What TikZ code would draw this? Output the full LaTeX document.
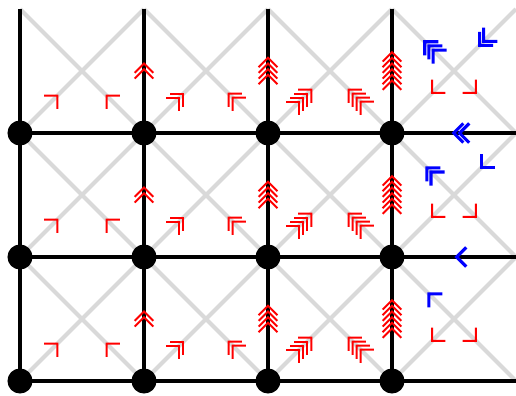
\documentclass[tikz,border=0pt]{standalone}
\usetikzlibrary{decorations.markings}

% n chevrons centred on the mark, pointing along the path
\newcommand{\chevrons}[4]{% style, count, spacing, depth
  \foreach \k in {1,...,#2}{
    \pgfmathsetmacro{\tipx}{(#4+(#2-1)*#3)/2-(\k-1)*#3}
    \draw[#1] (\tipx pt-#4,#4) -- (\tipx pt,0) -- (\tipx pt-#4,-#4);
  }
}

\begin{document}
\begin{tikzpicture}[x=2cm, y=2cm,
    dot/.style={circle, fill=black, inner sep=0pt, minimum size=11.5pt},
    grid line/.style={line width=1.8pt},
    diag/.style={line width=1.8pt, gray!30},
    red arrow/.style 2 args={postaction={decorate}, decoration={markings,
        mark=at position #2 with {\chevrons{red, line width=0.9pt}{#1}{2.6pt}{4.3pt}}}},
    blue arrow/.style 2 args={postaction={decorate}, decoration={markings,
        mark=at position #2 with {\chevrons{blue, line width=1.4pt}{#1}{2.7pt}{4.4pt}}}}]
    \useasboundingbox (-0.1613,-0.1129) rectangle (4,3.0726);

    % Grid points and cell centres
    \foreach \i in {0,...,4}
        \foreach \j in {0,...,3}
            \coordinate (p-\i-\j) at (\i,\j);
    \foreach \i in {0,...,3}
        \foreach \j in {0,...,2}
            \coordinate (c-\i-\j) at (\i+0.5,\j+0.5);

    % Diagonals
    \foreach \i in {0,...,3}
        \foreach \j in {0,...,2} {
            \pgfmathtruncatemacro{\ii}{\i+1}
            \pgfmathtruncatemacro{\jj}{\j+1}
            \draw[diag] (p-\i-\j) -- (p-\ii-\jj);
            \draw[diag] (p-\ii-\j) -- (p-\i-\jj);
        }

    % Grid
    \foreach \i in {0,...,3}
        \draw[grid line] (p-\i-0) -- (p-\i-3);
    \foreach \j in {0,...,2}
        \draw[grid line] (p-0-\j) -- (p-4-\j);

    % Nodes
    \foreach \i in {0,...,3}
        \foreach \j in {0,...,2}
            \node[dot] (v-\i-\j) at (p-\i-\j) {};

    % Red arrows
    \foreach \i/\n in {1/2, 2/4, 3/6}
        \foreach \j in {0,...,2} {
            \pgfmathtruncatemacro{\jj}{\j+1}
            \path[red arrow={\n}{0.5}] (p-\i-\j) -- (p-\i-\jj);
        }
    \foreach \i/\n in {0/1, 1/2, 2/4}
        \foreach \j in {0,...,2} {
            \pgfmathtruncatemacro{\ii}{\i+1}
            \path[red arrow={\n}{0.55}] (p-\i-\j) -- (c-\i-\j);
            \path[red arrow={\n}{0.55}] (p-\ii-\j) -- (c-\i-\j);
        }
    \foreach \j in {0,...,2} {
        \path[red arrow={1}{0.3}] (c-3-\j) -- (p-3-\j);
        \path[red arrow={1}{0.3}] (c-3-\j) -- (p-4-\j);
    }

    % Blue arrows
    \foreach \j/\n in {2/3, 1/2, 0/1} {
        \pgfmathtruncatemacro{\jj}{\j+1}
        \path[blue arrow={\n}{0.35}] (c-3-\j) -- (p-3-\jj);
    }
    \foreach \j/\n in {2/2, 1/1} {
        \pgfmathtruncatemacro{\jj}{\j+1}
        \path[blue arrow={\n}{0.5}] (p-4-\jj) -- (c-3-\j);
        \path[blue arrow={\n}{0.44}] (p-4-\j) -- (p-3-\j);
    }
\end{tikzpicture}
\end{document}
